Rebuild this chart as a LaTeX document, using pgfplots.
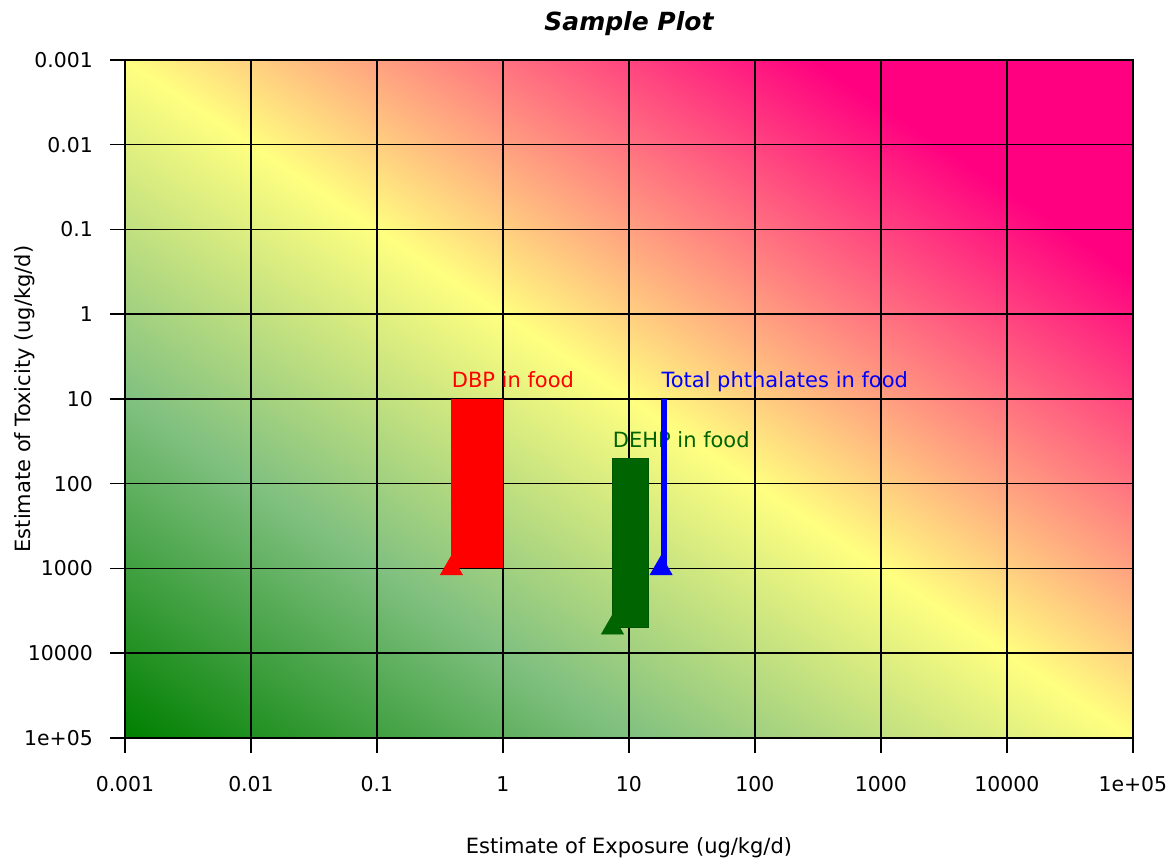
\documentclass[border=0pt]{standalone}
\usepackage{fontspec}
\setmainfont{DejaVu Sans}
\usepackage{pgfplots}
\pgfplotsset{compat=1.18}
\definecolor{dgreen}{RGB}{0,100,0}
\pgfdeclarehorizontalshading{bgshade}{100bp}{%
 rgb(0bp)=(0,0.502,0);
 rgb(14.64bp)=(0,0.502,0);
 rgb(32.32bp)=(0.502,0.753,0.502);
 rgb(50bp)=(1,1,0.502);
 rgb(61.93bp)=(1,0.502,0.502);
 rgb(74.31bp)=(1,0,0.502);
 rgb(100bp)=(1,0,0.502)}
\begin{document}
\fontsize{10.2pt}{12pt}\selectfont
\begin{tikzpicture}
% background gradient of the plotting area (axis box: 504pt x 339pt at the origin)
\begin{scope}[transform canvas={xscale=1.486726}]
\shade[shading=bgshade, shading angle=45] (0pt,0pt) rectangle (339pt,339pt);
\end{scope}
\begin{axis}[
  scale only axis, width=504pt, height=339pt,
  xmode=log, ymode=log, y dir=reverse,
  xmin=0.001, xmax=100000, ymin=0.001, ymax=100000,
  xtick={0.001,0.01,0.1,1,10,100,1000,10000,100000},
  ytick={0.001,0.01,0.1,1,10,100,1000,10000,100000},
  xticklabels={0.001,0.01,0.1,1,10,100,1000,10000,1e+05},
  yticklabels={0.001,0.01,0.1,1,10,100,1000,10000,1e+05},
  xminorticks=false, yminorticks=false,
  grid=major, major grid style={black, line width=0.75pt},
  axis line style={black, line width=0.8pt},
  tick align=outside, major tick length=7.5pt, tick style={black, line width=0.75pt},
  xtick pos=bottom, ytick pos=left,
  xticklabel style={yshift=-8pt},
  yticklabel style={xshift=-5pt},
  xlabel={Estimate of Exposure (ug/kg/d)},
  ylabel={Estimate of Toxicity (ug/kg/d)},
  label style={font=\fontsize{10.5pt}{12.5pt}\selectfont},
  xlabel style={at={(axis description cs:0.5,-0.1697)}, anchor=base},
  ylabel style={at={(axis description cs:-0.0942,0.5)}, anchor=base},
  title={Sample Plot},
  every axis title shift=0pt,
  title style={at={(axis description cs:0.5,1.0428)}, anchor=base, font=\fontsize{12.5pt}{15pt}\selectfont\bfseries\itshape},
]
% DBP in food
\addplot[fill=red, draw=none] coordinates {(0.39,10) (1,10) (1,1000) (0.39,1000)};
\addplot[only marks, mark=triangle*, mark size=6.3pt, color=red] coordinates {(0.39,1000)};
\node[anchor=base west, inner sep=0, text=red, yshift=5.5pt, font=\fontsize{10.5pt}{12.5pt}\selectfont] at (axis cs:0.39,10) {DBP in food};
% DEHP in food
\addplot[fill=dgreen, draw=dgreen!85!black, line width=0.5pt] coordinates {(7.4,50) (14.2,50) (14.2,5000) (7.4,5000) (7.4,50)};
\addplot[only marks, mark=triangle*, mark size=6.3pt, color=dgreen] coordinates {(7.4,5000)};
\node[anchor=base west, inner sep=0, text=dgreen, yshift=5.5pt, font=\fontsize{10.5pt}{12.5pt}\selectfont] at (axis cs:7.4,50) {DEHP in food};
% Total phthalates in food
\addplot[fill=blue, draw=none] coordinates {(18,10) (20.1,10) (20.1,1000) (18,1000)};
\addplot[only marks, mark=triangle*, mark size=6.3pt, color=blue] coordinates {(18,1000)};
\node[anchor=base west, inner sep=0, text=blue, yshift=5.5pt, font=\fontsize{10.5pt}{12.5pt}\selectfont] at (axis cs:18,10) {Total phthalates in food};
\end{axis}
\path (-62.5pt,-60.5pt) rectangle (524.5pt,369pt);
\end{tikzpicture}
\end{document}
